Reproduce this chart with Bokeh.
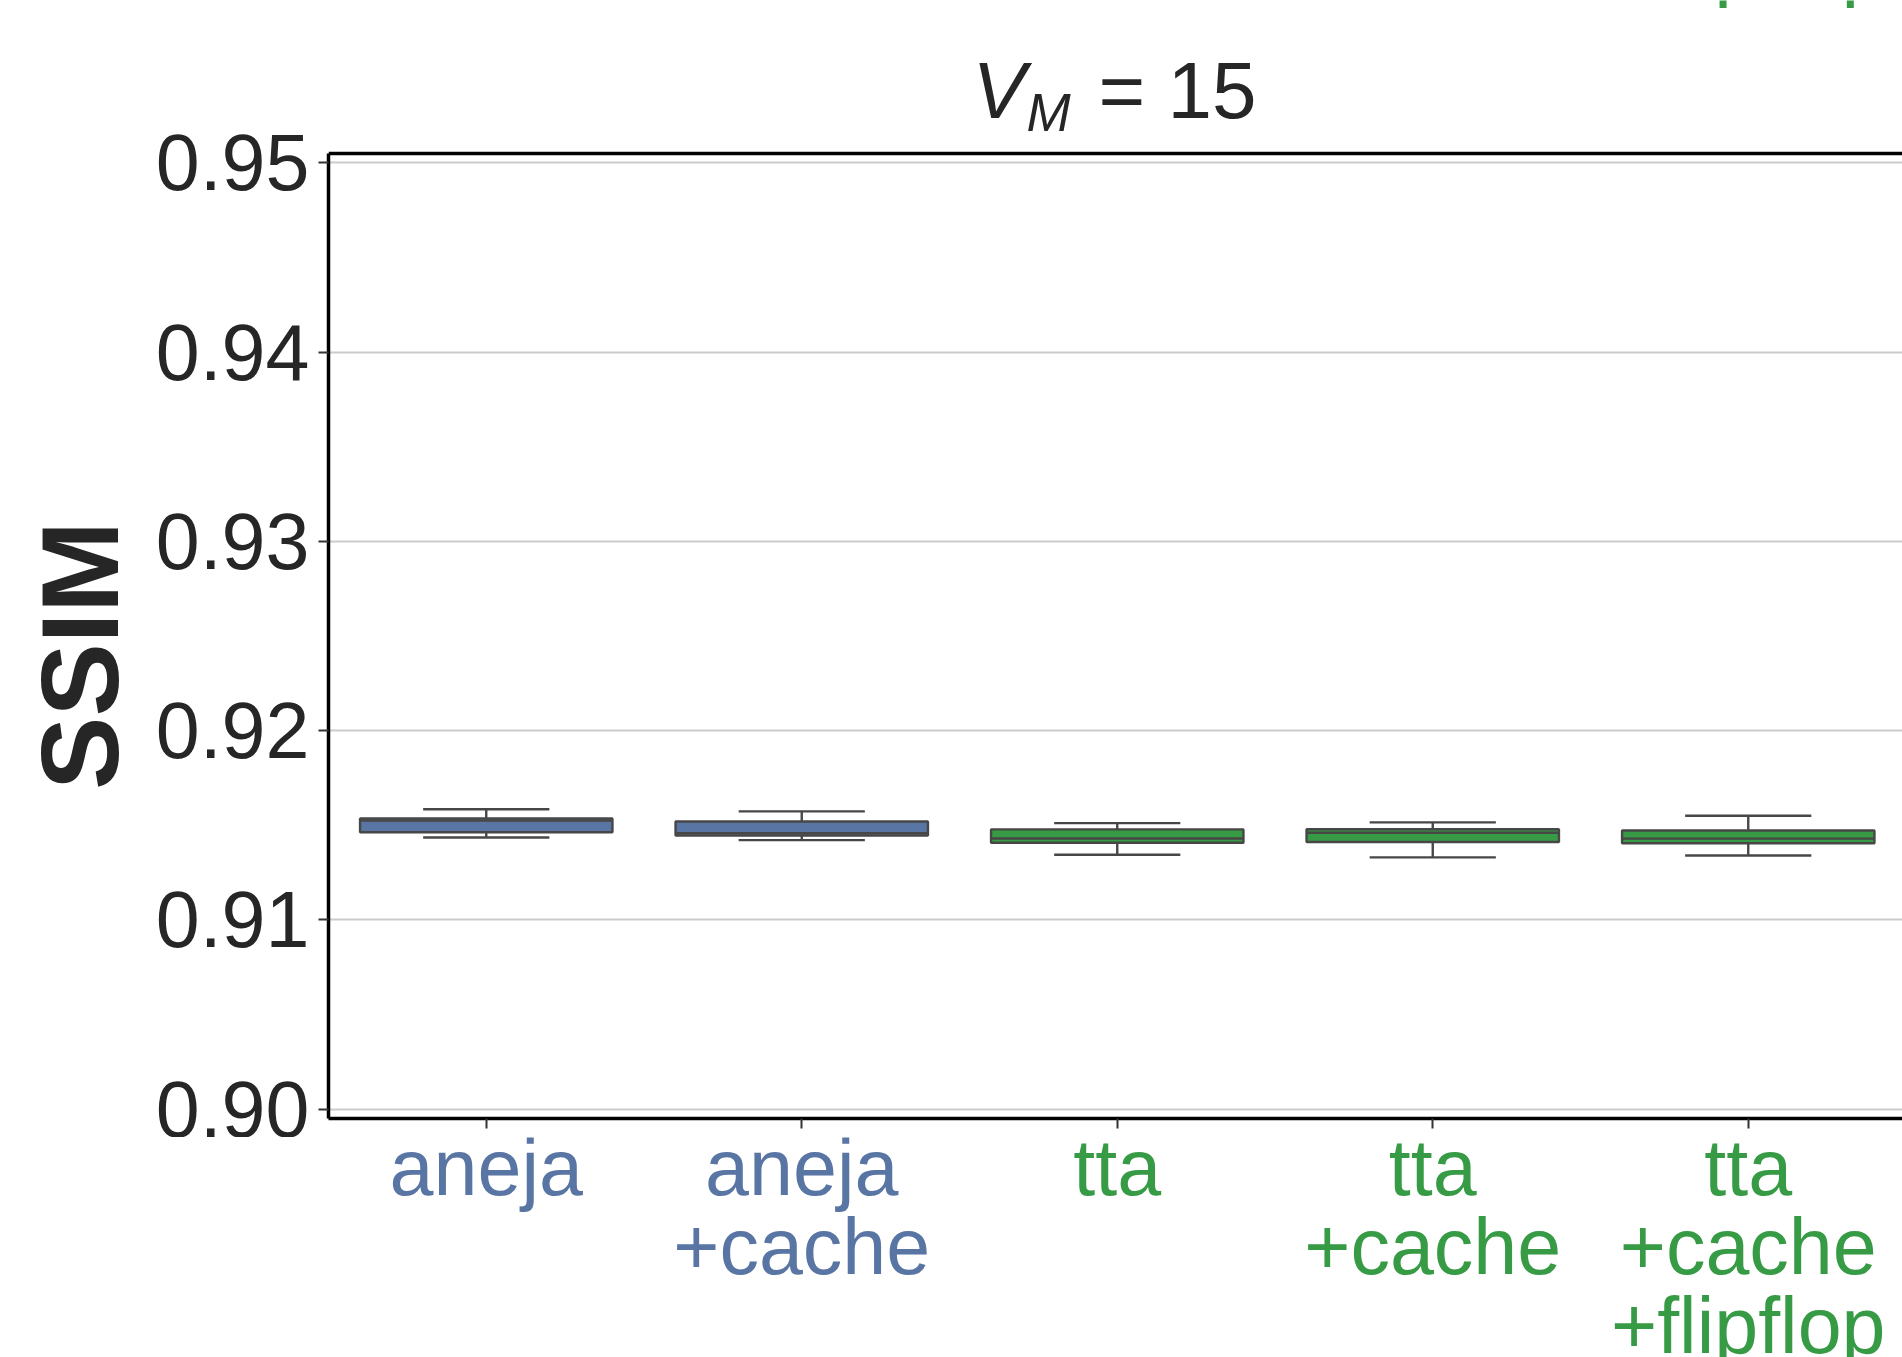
import numpy as np
from bokeh.plotting import figure
from bokeh.layouts import row, column
from bokeh.models import ColumnDataSource, Range1d, FixedTicker, Span, NumeralTickFormatter
from bokeh.embed import file_html
from bokeh.resources import INLINE
from bokeh.core.properties import value

# ---------------- data ----------------
categories = ["aneja", "aneja+cache", "tta", "tta+cache", "tta+cache+flipflop"]
tick_labels = ["aneja", "aneja\n+cache", "tta", "tta\n+cache", "tta\n+cache\n+flipflop"]
families = ["aneja", "aneja", "tta", "tta", "tta"]
whisker_low = [0.91435, 0.91421, 0.91344, 0.91330, 0.91340]
q1 = [0.91463, 0.91446, 0.91407, 0.91411, 0.91405]
median = [0.91525, 0.91458, 0.91430, 0.91460, 0.91429]
q3 = [0.91536, 0.91520, 0.91478, 0.91479, 0.91472]
whisker_high = [0.91584, 0.91573, 0.91511, 0.91515, 0.91550]
y_ticks = [0.90, 0.91, 0.92, 0.93, 0.94, 0.95]
y_tick_labels = ["0.90", "0.91", "0.92", "0.93", "0.94", "0.95"]
y_label = "SSIM"
title_var, title_sub, title_rest = "V", "M", "= 15"
neighbour_label = "+flipflop"   # last line of the panel above, cut by the page top

family_colors = {"aneja": "#5875a4", "tta": "#379b46"}
edge_color = "#474747"
text_color = "#262626"
FONT = "Liberation Sans"
K_MID = 0.3465   # baseline sits this many em below a "middle"-anchored text

# ---------------- layout (page pixels) ----------------
PAGE_W, PAGE_H = 1902, 1357
LEFT_W = 150                 # strip holding the y label
FRAME_L = 328                # left spine
FRAME_TOP = 153              # top spine
FRAME_BOT = 1118             # bottom spine
MAIN_BB = 19                 # room for the x ticks and the "0.90" label
MAIN_H = FRAME_BOT + MAIN_BB
LAB_H = PAGE_H - MAIN_H
COL_W = PAGE_W - LEFT_W
COL_BL = FRAME_L - LEFT_W
FW = COL_W - COL_BL
PX_PER_CAT = 315.5

X0 = -0.5
X1 = X0 + FW / PX_PER_CAT
Y0, Y1 = 0.8995, 0.9505                      # visible axes limits
Y_PER_PX = (Y1 - Y0) / (FRAME_BOT - FRAME_TOP)
Y_TOP = Y0 + FRAME_BOT * Y_PER_PX            # frame extends to page top


def xd(page_x):
    return X0 + (page_x - FRAME_L) / PX_PER_CAT


def yd(page_y):
    return Y0 + (FRAME_BOT - page_y) * Y_PER_PX


def mid(baseline_page_y, size):
    return baseline_page_y - K_MID * size


idx = list(range(len(categories)))
colors = [family_colors[f] for f in families]
box_w = 0.8
cap_w = 0.4

src = ColumnDataSource(dict(
    x=idx, lo=whisker_low, q1=q1, med=median, q3=q3, hi=whisker_high, color=colors,
    xl=[i - box_w / 2 for i in idx], xr=[i + box_w / 2 for i in idx],
    cl=[i - cap_w / 2 for i in idx], cr=[i + cap_w / 2 for i in idx],
))

x_range = Range1d(X0, X1)

# ---------------- main plot ----------------
p = figure(width=COL_W, height=MAIN_H, output_backend="svg", toolbar_location=None,
           x_range=x_range, y_range=Range1d(Y0, Y_TOP),
           min_border_left=COL_BL, min_border_right=0, min_border_top=0, min_border_bottom=MAIN_BB)
p.outline_line_color = None
p.background_fill_color = "white"
p.border_fill_color = "white"

LW = 2.4
p.segment(x0="x", y0="q3", x1="x", y1="hi", source=src, line_color=edge_color, line_width=LW)
p.segment(x0="x", y0="lo", x1="x", y1="q1", source=src, line_color=edge_color, line_width=LW)
p.segment(x0="cl", y0="hi", x1="cr", y1="hi", source=src, line_color=edge_color, line_width=LW)
p.segment(x0="cl", y0="lo", x1="cr", y1="lo", source=src, line_color=edge_color, line_width=LW)
p.vbar(x="x", width=box_w, bottom="q1", top="q3", source=src, fill_color="color",
       line_color=edge_color, line_width=LW)
p.segment(x0="xl", y0="med", x1="xr", y1="med", source=src, line_color=edge_color, line_width=LW)

p.yaxis.bounds = (Y0, Y1)
p.yaxis.ticker = FixedTicker(ticks=y_ticks)
p.yaxis.formatter = NumeralTickFormatter(format="0.00")
p.yaxis.major_label_overrides = {t: l for t, l in zip(y_ticks, y_tick_labels)}
p.yaxis.major_label_text_font = FONT
p.yaxis.major_label_text_font_size = "79px"
p.yaxis.major_label_text_color = text_color
p.yaxis.major_label_standoff = 9
p.yaxis.minor_tick_line_color = None
p.yaxis.major_tick_in = 0
p.yaxis.major_tick_out = 10
p.yaxis.major_tick_line_width = 2
p.yaxis.major_tick_line_color = "#333333"
p.yaxis.axis_line_color = "black"
p.yaxis.axis_line_width = 3.5

p.xaxis.ticker = FixedTicker(ticks=idx)
p.xaxis.major_label_overrides = {i: "" for i in idx}
p.xaxis.major_label_standoff = 0
p.xaxis.major_label_text_font_size = "1px"
p.xaxis.minor_tick_line_color = None
p.xaxis.major_tick_in = 0
p.xaxis.major_tick_out = 10
p.xaxis.major_tick_line_width = 2
p.xaxis.major_tick_line_color = "#333333"
p.xaxis.axis_line_color = "black"
p.xaxis.axis_line_width = 3.5

p.xgrid.grid_line_color = None
p.ygrid.grid_line_color = "#cccccc"
p.ygrid.grid_line_width = 1.8

# top spine
p.add_layout(Span(location=Y1, dimension="width", line_color="black", line_width=3.5))

# title  V_M = 15
p.text(x=[xd(972)], y=[yd(mid(117.3, 80))], text=[title_var], text_font=value(FONT),
       text_font_style="italic", text_font_size="80px", text_color=text_color,
       text_align="left", text_baseline="middle")
p.text(x=[xd(1026)], y=[yd(mid(130, 53))], text=[title_sub], text_font=value(FONT),
       text_font_style="italic", text_font_size="53px", text_color=text_color,
       text_align="left", text_baseline="middle")
p.text(x=[xd(1256)], y=[yd(mid(117.3, 80))], text=[title_rest], text_font=value(FONT),
       text_font_size="80px", text_color=text_color,
       text_align="right", text_baseline="middle")
# descenders of the neighbouring panel's label, peeking in at the page top
p.text(x=[idx[-1]], y=[yd(mid(-9.5, 79))], text=[neighbour_label], text_font=value(FONT),
       text_font_size="79px", text_color=family_colors["tta"],
       text_align="center", text_baseline="middle")

# ---------------- x tick labels strip ----------------
fl = figure(width=COL_W, height=LAB_H, output_backend="svg", toolbar_location=None,
            x_range=x_range, y_range=Range1d(0, LAB_H),
            x_axis_location=None, y_axis_location=None,
            min_border_left=COL_BL, min_border_right=0, min_border_top=0, min_border_bottom=0)
fl.outline_line_color = None
fl.grid.visible = False
lx, ly, lt, lc = [], [], [], []
for i, lab in enumerate(tick_labels):
    for j, line in enumerate(lab.split("\n")):
        lx.append(i)
        ly.append(PAGE_H - mid(1194 + 79 * j, 79))
        lt.append(line)
        lc.append(family_colors[families[i]])
fl.text(x="x", y="y", text="text", source=ColumnDataSource(dict(x=lx, y=ly, text=lt, color=lc)),
        text_align="center", text_baseline="middle", text_font=value(FONT),
        text_font_size="79px", text_color="color")

# ---------------- y label strip ----------------
fy = figure(width=LEFT_W, height=PAGE_H, output_backend="svg", toolbar_location=None,
            x_range=Range1d(0, LEFT_W), y_range=Range1d(0, PAGE_H),
            x_axis_location=None, y_axis_location=None,
            min_border_left=0, min_border_right=0, min_border_top=0, min_border_bottom=0)
fy.outline_line_color = None
fy.grid.visible = False
fy.text(x=[117 - K_MID * 110], y=[PAGE_H - 655], text=[y_label], angle=np.pi / 2,
        text_font=value(FONT), text_font_style="bold", text_font_size="110px",
        text_color=text_color, text_align="center", text_baseline="middle")

layout = row(fy, column(p, fl))
open("out.html", "w").write(file_html(layout, INLINE))
